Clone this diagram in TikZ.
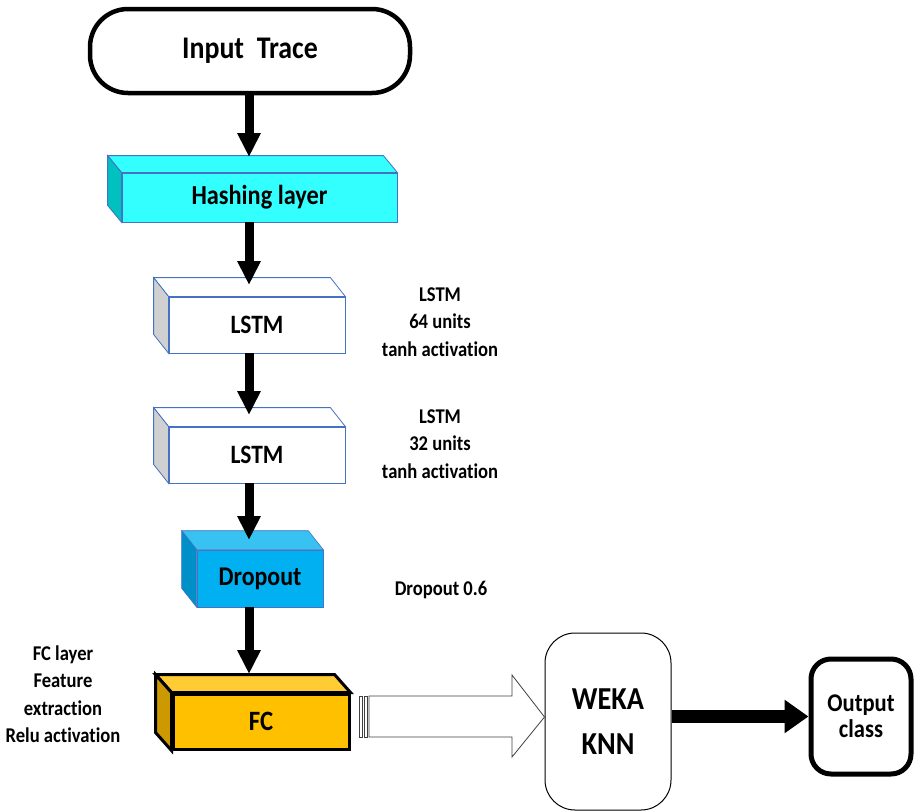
\documentclass[tikz,border=0pt]{standalone}
\usepackage{fontspec}
\setmainfont{Carlito}[FakeStretch=0.885, Ligatures=NoCommon]
\usetikzlibrary{arrows.meta,calc}

\definecolor{cyanfront}{HTML}{33FFFF}
\definecolor{cyanside}{HTML}{00C0C0}
\definecolor{edgeblue}{HTML}{4472C4}
\definecolor{lstmside}{HTML}{D0D0D0}
\definecolor{dropfront}{HTML}{00B0F0}
\definecolor{droptop}{HTML}{38C2F2}
\definecolor{dropside}{HTML}{0090C8}
\definecolor{fcfront}{HTML}{FFC000}
\definecolor{fctop}{HTML}{FFCC33}
\definecolor{fcside}{HTML}{CC9A00}
\definecolor{arrowedge}{HTML}{404040}

\newcommand{\txt}[2]{\fontsize{#1}{#2}\selectfont\bfseries}

% top and side faces of a prism whose front face is node #1
% #2 = depth offset, #3 = top fill, #4 = side fill, #5 = stroke options
\newcommand{\prismfaces}[5]{%
  \filldraw[#5, fill=#3] (#1.north west) -- ++(#2) -- ($(#1.north east)+(#2)$) -- (#1.north east) -- cycle;
  \filldraw[#5, fill=#4] (#1.north west) -- ++(#2) -- ($(#1.south west)+(#2)$) -- (#1.south west) -- cycle;
}

\tikzset{
  flow/.style={line width=9pt, -{Triangle[length=24pt,width=22pt]}},
  hflow/.style={line width=13pt, -{Triangle[length=24pt,width=32pt]}},
  frontface/.style={inner sep=0pt, align=center},
  terminal/.style={draw, inner sep=0pt, align=center},
  sidenote/.style={align=center, inner sep=0pt, font=\txt{21}{27.5}},
  thinedge/.style={draw=edgeblue, line width=0.8pt},
}

\begin{document}
\begin{tikzpicture}[x=1pt, y=-1pt, line join=miter]
\useasboundingbox (0,0) rectangle (916,811);

% start terminal
\node[terminal, line width=4.5pt, rounded corners=38pt,
      minimum width=320pt, minimum height=84pt, font=\txt{31.5}{36}]
      (input) at (250,51) {Input\ \ Trace};

% hashing layer
\node[frontface, thinedge, fill=cyanfront, minimum width=275pt, minimum height=49pt,
      font=\txt{27.5}{32}] (hash) at (259.5,197.5) {Hashing layer};
\prismfaces{hash}{-14,-17}{cyanfront}{cyanside}{thinedge}

% first LSTM
\node[frontface, thinedge, fill=white, minimum width=176pt, minimum height=56pt,
      font=\txt{26.5}{30}] (lstma) at (257,325) {LSTM};
\prismfaces{lstma}{-15,-19}{white}{lstmside}{thinedge}

% second LSTM
\node[frontface, thinedge, fill=white, minimum width=176pt, minimum height=56pt,
      font=\txt{26.5}{30}] (lstmb) at (257,455) {LSTM};
\prismfaces{lstmb}{-15,-19}{white}{lstmside}{thinedge}

% dropout
\node[frontface, draw=edgeblue, line width=0.6pt, fill=dropfront, minimum width=126pt, minimum height=57pt,
      font=\txt{27}{31}] (drop) at (260,578.5) {Dropout};
\prismfaces{drop}{-15,-19}{droptop}{dropside}{draw=edgeblue, line width=0.6pt}

% fully connected layer
\node[frontface, draw=black, line width=3pt, fill=fcfront, minimum width=176pt, minimum height=55pt,
      font=\txt{28}{31}] (fc) at (261,721.5) {FC};
\prismfaces{fc}{-16,-18}{fctop}{fcside}{draw=black, line width=3pt}

% classifier and output
\node[terminal, line width=1pt, rounded corners=30pt, minimum width=126pt, minimum height=177pt,
      font=\txt{32}{45}] (weka) at (608,721.5) {WEKA\\KNN};
\node[terminal, line width=5pt, rounded corners=20pt, minimum width=100pt, minimum height=115pt,
      font=\txt{25.5}{26}] (out) at (861,716.5) {Output\\class};

% annotations
\node[sidenote] (notea) at (440,322) {LSTM\\64 units\\tanh activation};
\node[sidenote] (noteb) at (440,444) {LSTM\\32 units\\tanh activation};
\node[sidenote] (notec) at (441,590) {Dropout 0.6};
\node[sidenote] (noted) at (63,694) {FC layer\\Feature\\extraction\\Relu activation};

% entry points on the top faces
\coordinate (hashin) at (249,157);
\coordinate (lstmain) at (249,285);
\coordinate (lstmbin) at (249,415);
\coordinate (dropin) at (249,540);
\coordinate (fcin) at (249,674);

\draw[flow] (input.south -| hashin) -- (hashin);
\draw[flow] (hash.south -| lstmain) -- (lstmain);
\draw[flow] (lstma.south -| lstmbin) -- (lstmbin);
\draw[flow] (lstmb.south -| dropin) -- (dropin);
\draw[flow] (drop.south -| fcin) -- (fcin);

% striped block arrow from FC to the classifier
\begin{scope}[draw=arrowedge, line width=0.8pt, fill=white]
  \filldraw (359,696) rectangle (362,737);
  \filldraw (364,696) rectangle (367,737);
  \filldraw (369,696) -- (512,696) -- (512,675) -- (weka.west |- 0,717)
            -- (512,757) -- (512,737) -- (369,737) -- cycle;
\end{scope}

\draw[hflow] (weka.east |- out.west) -- (out.west);
\end{tikzpicture}
\end{document}
